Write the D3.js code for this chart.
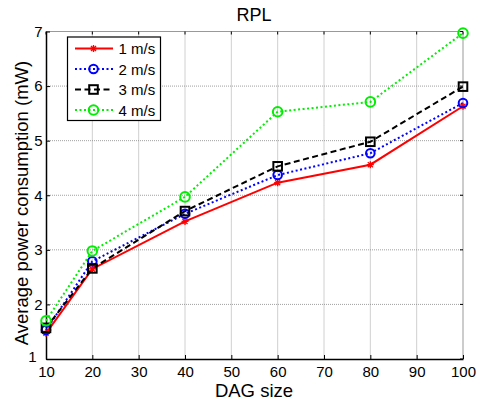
<!DOCTYPE html>
<html><head><meta charset="utf-8">
<script src="https://cdn.jsdelivr.net/npm/d3@7"></script>
<style>body{margin:0;background:#fff}svg{display:block}text{font-family:"Liberation Sans",Arial,sans-serif}</style>
</head><body>
<svg id="c" width="477" height="405"></svg>
<script>
const dagSizes = [10, 20, 40, 60, 80, 100];
const speed1 = [1.47, 2.65, 3.52, 4.23, 4.56, 5.63];
const speed2 = [1.53, 2.79, 3.66, 4.37, 4.77, 5.69];
const speed3 = [1.57, 2.66, 3.71, 4.53, 4.98, 5.99];
const speed4 = [1.70, 2.98, 3.97, 5.53, 5.71, 6.97];
const seriesNames = ["1 m/s", "2 m/s", "3 m/s", "4 m/s"];
const xTicks = [10, 20, 30, 40, 50, 60, 70, 80, 90, 100];
const yTicks = [1, 2, 3, 4, 5, 6, 7];

const series = [
  {name: seriesNames[0], values: speed1, color: "#ff0000", dash: null, marker: "star"},
  {name: seriesNames[1], values: speed2, color: "#0000ff", dash: "2,2.5", marker: "circle"},
  {name: seriesNames[2], values: speed3, color: "#000000", dash: "6,3.5", marker: "square"},
  {name: seriesNames[3], values: speed4, color: "#00ee00", dash: "2,2.5", marker: "circle"}
];

const svg = d3.select("#c");
const L = 46, R = 463, T = 31.5, B = 359;
const x = d3.scaleLinear().domain([10, 100]).range([L, R]);
const y = d3.scaleLinear().domain([1, 7]).range([B, T]);

// grid
const g = svg.append("g");
g.selectAll(".gx").data(xTicks.slice(1, -1)).enter().append("line")
  .attr("x1", d => x(d)).attr("x2", d => x(d)).attr("y1", T).attr("y2", B)
  .attr("stroke", "#888").attr("stroke-width", 0.8).attr("stroke-dasharray", "1,1");
g.selectAll(".gy").data(yTicks.slice(1, -1)).enter().append("line")
  .attr("y1", d => y(d)).attr("y2", d => y(d)).attr("x1", L).attr("x2", R)
  .attr("stroke", "#888").attr("stroke-width", 0.8).attr("stroke-dasharray", "1,1");
// top/right box (light)
svg.append("line").attr("x1", L).attr("x2", R).attr("y1", T).attr("y2", T).attr("stroke", "#999").attr("stroke-width", 1);
svg.append("line").attr("x1", R).attr("x2", R).attr("y1", T).attr("y2", B).attr("stroke", "#999").attr("stroke-width", 1);
// top/right small ticks
svg.selectAll(".tt").data(xTicks).enter().append("line")
  .attr("x1", d => x(d)).attr("x2", d => x(d)).attr("y1", T).attr("y2", T + 3).attr("stroke", "#000");
svg.selectAll(".rt").data(yTicks).enter().append("line")
  .attr("y1", d => y(d)).attr("y2", d => y(d)).attr("x1", R).attr("x2", R - 3).attr("stroke", "#000");

// axes
const xAxis = d3.axisBottom(x).tickValues(xTicks).tickFormat(d3.format("d")).tickSizeInner(-4).tickSizeOuter(0).tickPadding(7.5);
const yAxis = d3.axisLeft(y).tickValues(yTicks).tickFormat(d3.format("d")).tickSizeInner(-4).tickSizeOuter(0).tickPadding(3.5);
const gx = svg.append("g").attr("transform", `translate(0,${B})`).call(xAxis);
const gy = svg.append("g").attr("transform", `translate(${L},0)`).call(yAxis);
[gx, gy].forEach(a => {
  a.select(".domain").attr("stroke", "#000").attr("stroke-width", 1.5);
  a.selectAll(".tick line").attr("stroke", "#000");
  a.selectAll(".tick text").attr("fill", "#000").style("font-size", "15px").style("font-family", "'Liberation Sans',Arial,sans-serif");
});
// keep the lowest y label clear of the "10" x label
gy.selectAll(".tick").filter(d => d === 1).select("text").attr("x", -9.5).attr("dy", "0.15em");

// lines
const line = d3.line().x((d, i) => x(dagSizes[i])).y(d => y(d));
function drawMarker(sel, s, cx, cy) {
  if (s.marker === "circle") {
    sel.append("circle").attr("cx", cx).attr("cy", cy).attr("r", s.color === "#00ee00" ? 4.8 : 4.3)
      .attr("fill", "none").attr("stroke", s.color).attr("stroke-width", 2);
  } else if (s.marker === "square") {
    sel.append("rect").attr("x", cx - 4.3).attr("y", cy - 4.3).attr("width", 8.6).attr("height", 8.6)
      .attr("fill", "none").attr("stroke", s.color).attr("stroke-width", 2);
  } else {
    const r = 3.5, d = r * 0.72;
    sel.append("path").attr("transform", `translate(${cx},${cy})`)
      .attr("d", `M${-r},0H${r}M0,${-r}V${r}M${-d},${-d}L${d},${d}M${-d},${d}L${d},${-d}`)
      .attr("fill", "none").attr("stroke", s.color).attr("stroke-width", 1.3);
  }
}
series.forEach(s => {
  svg.append("path").datum(s.values).attr("d", line).attr("fill", "none")
    .attr("stroke", s.color).attr("stroke-width", 2).attr("stroke-dasharray", s.dash);
});
series.forEach(s => {
  const mg = svg.append("g");
  s.values.forEach((v, i) => drawMarker(mg, s, x(dagSizes[i]), y(v)));
});

// legend
const lg = svg.append("g");
lg.append("rect").attr("x", 67.5).attr("y", 37).attr("width", 93).attr("height", 83.5)
  .attr("fill", "#fff").attr("stroke", "#000").attr("stroke-width", 1.2);
series.forEach((s, i) => {
  const yy = 48.5 + i * 20.5;
  lg.append("line").attr("x1", 75).attr("x2", 113).attr("y1", yy).attr("y2", yy)
    .attr("stroke", s.color).attr("stroke-width", 2).attr("stroke-dasharray", s.dash);
  drawMarker(lg, s, 93.5, yy);
  lg.append("text").attr("x", 118.5).attr("y", yy + 5.5).text(s.name)
    .style("font-size", "15px").attr("fill", "#000");
});

// title and labels
svg.append("text").attr("x", 254).attr("y", 21).attr("text-anchor", "middle").text("RPL")
  .style("font-size", "18px").attr("fill", "#000");
svg.append("text").attr("x", 254).attr("y", 397).attr("text-anchor", "middle").text("DAG size")
  .style("font-size", "18.5px").attr("fill", "#000");
svg.append("text").attr("transform", "translate(28,203) rotate(-90)").attr("text-anchor", "middle")
  .text("Average power consumption (mW)").style("font-size", "18.5px").attr("fill", "#000");
</script>
</body></html>
